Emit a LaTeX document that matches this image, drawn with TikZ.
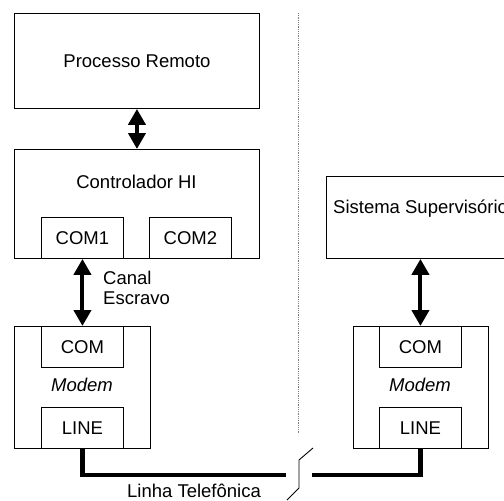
\documentclass[tikz,border=0pt]{standalone}
\usepackage{fontspec}
\setmainfont{Liberation Sans}
\usepackage{tikz}
\usetikzlibrary{positioning, calc, arrows.meta}
\tikzstyle{BiArrow} = [
%thick double arrow between blocks:
line width = 4pt,
{Triangle[width=17pt, length=16pt]}-{Triangle[width=17pt, length=16pt]}
]
\tikzstyle{Wire} = [line width = 4.5pt]

\begin{document}
\begin{tikzpicture}[x=1pt, y=-1pt,
			block/.style = {rectangle, draw, line width = 0.9pt, inner sep = 0pt, anchor = north west},
			port/.style = {rectangle, draw, line width = 0.9pt, inner sep = 0pt, minimum width = 82pt, minimum height = 41pt, anchor = north west},
			txt/.style = {inner sep = 0pt},
			font = \fontsize{18.5}{20.5}\selectfont
		]
		\useasboundingbox (0,0) rectangle (504,501);
		\clip (0,0) rectangle (504,501);

		% remote side
		\node[block, minimum width = 245pt, minimum height = 95pt](proc) at (14,13){Processo Remoto};
		\node[block, minimum width = 245pt, minimum height = 109pt](ctrl) at (14,149){};
		\node[txt](ctrlT) at (136.5,182){Controlador HI};
		\node[port](com1) at (41,217){COM1};
		\node[port](com2) at (149,217){COM2};

		\node[block, minimum width = 136pt, minimum height = 122pt](modL) at (14,326){};
		\node[port](mcomL) at (41,326){COM};
		\node[txt](modLT) at (82,385){\itshape Modem};
		\node[port](lineL) at (41,407){LINE};

		% supervisory side (box runs past the right edge)
		\node[block, minimum width = 250pt, minimum height = 82pt](sis) at (326,176){};
		\node[txt, anchor = west](sisT) at (333,209){Sistema Supervisório};
		\node[block, minimum width = 135pt, minimum height = 122pt](modR) at (353,326){};
		\node[port](mcomR) at (379,326){COM};
		\node[txt](modRT) at (420,385){\itshape Modem};
		\node[port](lineR) at (379,407){LINE};

		% links
		\draw[BiArrow](proc.south)--(ctrl.north);
		\draw[BiArrow](com1.south)--(mcomL.north);
		\node[txt, anchor = west, align = left](canal) at (103,288){Canal\\Escravo};
		\draw[BiArrow](mcomR.north)--(mcomR.north |- sis.south);

		\coordinate(brkL) at (286,475);
		\coordinate(brkR) at (312,475);
		\draw[Wire](lineL.south)|-(brkL);
		\draw[Wire](brkR)-|(lineR.south);
		\draw[line width = 0.9pt](313,448)--(299,460)--(299,488)--(287,500);
		\node[txt, anchor = base](linha) at (194,497.5){Linha Telefônica};

		\draw[gray, densely dotted, line width = 0.8pt](298,13)--(298,433);

	\end{tikzpicture}
\end{document}
